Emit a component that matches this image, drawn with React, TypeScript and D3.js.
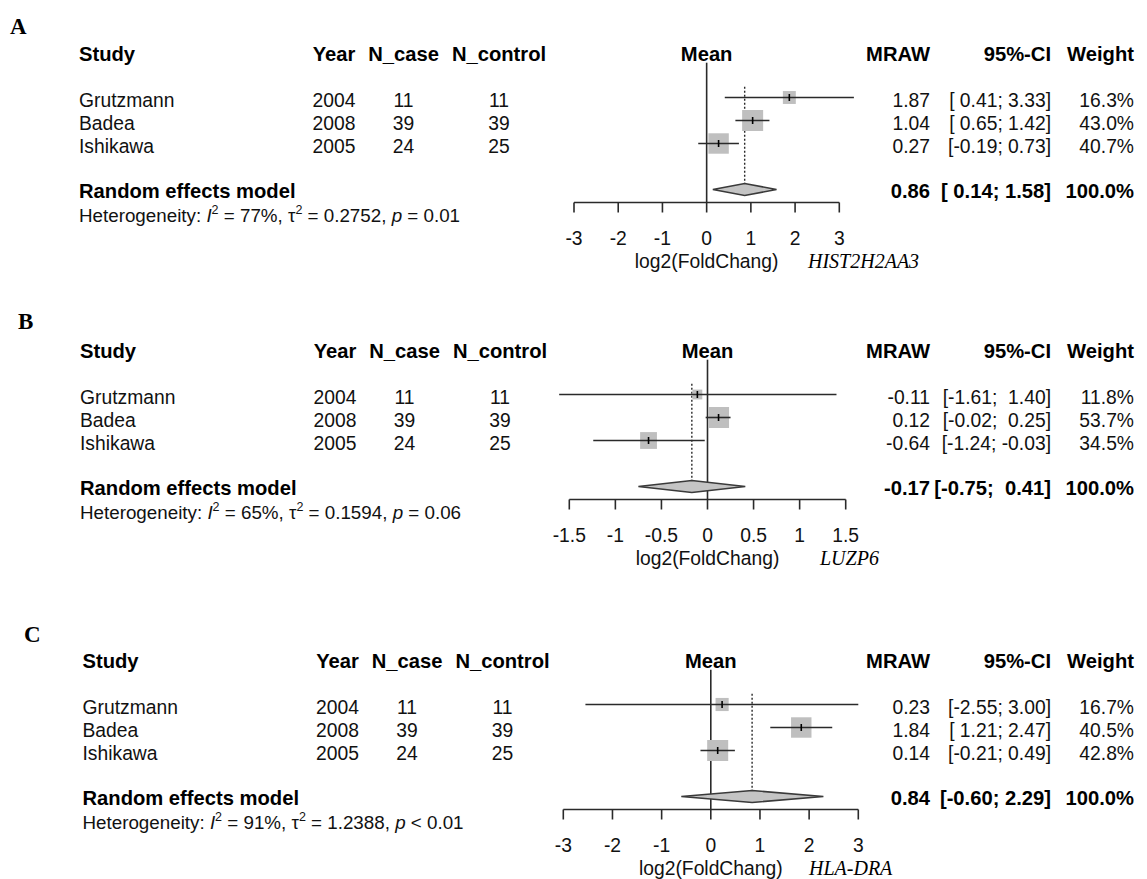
import React from "react";
import * as d3 from "d3";

// ---------- data ----------
const studies = ["Grutzmann", "Badea", "Ishikawa"];
const years = ["2004", "2008", "2005"];
const nCase = [11, 39, 24];
const nControl = [11, 39, 25];

const meanA = [1.87, 1.04, 0.27];
const lowerA = [0.41, 0.65, -0.19];
const upperA = [3.33, 1.42, 0.73];
const weightA = [16.3, 43.0, 40.7];
const summaryA = [0.86, 0.14, 1.58];
const ticksA = [-3, -2, -1, 0, 1, 2, 3];

const meanB = [-0.11, 0.12, -0.64];
const lowerB = [-1.61, -0.02, -1.24];
const upperB = [1.4, 0.25, -0.03];
const weightB = [11.8, 53.7, 34.5];
const summaryB = [-0.17, -0.75, 0.41];
const ticksB = [-1.5, -1, -0.5, 0, 0.5, 1, 1.5];

const meanC = [0.23, 1.84, 0.14];
const lowerC = [-2.55, 1.21, -0.21];
const upperC = [3.0, 2.47, 0.49];
const weightC = [16.7, 40.5, 42.8];
const summaryC = [0.84, -0.6, 2.29];
const ticksC = [-3, -2, -1, 0, 1, 2, 3];

const panelLetters = ["A", "B", "C"];
const genes = ["HIST2H2AA3", "LUZP6", "HLA-DRA"];
const hetI2 = ["77%", "65%", "91%"];
const hetTau2 = ["0.2752", "0.1594", "1.2388"];
const hetP = ["= 0.01", "= 0.06", "< 0.01"];

const panelData = [
  { mean: meanA, lower: lowerA, upper: upperA, weight: weightA, summary: summaryA, ticks: ticksA },
  { mean: meanB, lower: lowerB, upper: upperB, weight: weightB, summary: summaryB, ticks: ticksB },
  { mean: meanC, lower: lowerC, upper: upperC, weight: weightC, summary: summaryC, ticks: ticksC },
];

// ---------- layout ----------
const layouts = [
  { dy: 0, dx: 0, range: [574, 839.3], geneX: 808, letterX: 10, letterY: 34 },
  { dy: 297, dx: 1, range: [569.3, 845.7], geneX: 820, letterX: 18, letterY: 329 },
  { dy: 607, dx: 3.5, range: [563.3, 858.3], geneX: 809, letterX: 24, letterY: 642 },
];

const SANS = "'Liberation Sans', Arial, Helvetica, sans-serif";
const SERIF = "'Liberation Serif', 'Times New Roman', serif";
const FS = 19.3;
const FSB = 20.2;
const TXT = "#111";
const LINE = "#2a2a2a";
const NB = "\u00A0";

const fmt = (v: number) => v.toFixed(2);
const pad = (v: number, anyNeg: boolean) => (anyNeg && v >= 0 ? NB : "") + fmt(v);

function Panel({ idx }: { idx: number }) {
  const d = panelData[idx];
  const L = layouts[idx];
  const x = d3
    .scaleLinear()
    .domain([d.ticks[0], d.ticks[d.ticks.length - 1]])
    .range(L.range);
  const maxW = d3.max(d.weight) as number;
  const size = d3.scaleSqrt().domain([0, maxW]).range([0, 21]);

  const rowY = [97.5, 120.5, 143.5].map((v) => v + L.dy);
  const sumY = 189.5 + L.dy;
  const headerBase = 61 + L.dy;
  const axisY = 202.5 + L.dy;
  const zeroTop = 62.7 + L.dy;
  const dotTop = 86.7 + L.dy;

  const allLo = [...d.lower, d.summary[1]];
  const allHi = [...d.upper, d.summary[2]];
  const negLo = allLo.some((v) => v < 0);
  const negHi = allHi.some((v) => v < 0);
  const ci = (lo: number, hi: number) => `[${pad(lo, negLo)};${NB}${pad(hi, negHi)}]`;

  const tx = L.dx;
  const colStudy = 79 + tx;
  const colYear = 334 + tx;
  const colCase = 403.5 + tx;
  const colCtrl = 499 + tx;
  const colMraw = 930;
  const colCI = 1051;
  const colW = 1134;

  const x0 = x(0);

  return (
    <g>
      <text x={L.letterX} y={L.letterY} fontFamily={SERIF} fontWeight="bold" fontSize={23} fill="#000">
        {panelLetters[idx]}
      </text>

      {/* headers */}
      <g fontFamily={SANS} fontWeight="bold" fontSize={FSB} fill="#000">
        <text x={colStudy} y={headerBase}>Study</text>
        <text x={colYear} y={headerBase} textAnchor="middle">Year</text>
        <text x={colCase} y={headerBase} textAnchor="middle">N_case</text>
        <text x={colCtrl} y={headerBase} textAnchor="middle">N_control</text>
        <text x={x0} y={headerBase} textAnchor="middle">Mean</text>
        <text x={colMraw} y={headerBase} textAnchor="end">MRAW</text>
        <text x={colCI} y={headerBase} textAnchor="end">95%-CI</text>
        <text x={colW} y={headerBase} textAnchor="end">Weight</text>
      </g>

      {/* study rows */}
      <g fontFamily={SANS} fontSize={FS} fill={TXT}>
        {studies.map((s, i) => {
          const yb = rowY[i] + 9.5;
          return (
            <g key={s}>
              <text x={colStudy} y={yb}>{s}</text>
              <text x={colYear} y={yb} textAnchor="middle">{years[i]}</text>
              <text x={colCase} y={yb} textAnchor="middle">{nCase[i]}</text>
              <text x={colCtrl} y={yb} textAnchor="middle">{nControl[i]}</text>
              <text x={colMraw} y={yb} textAnchor="end">{fmt(d.mean[i])}</text>
              <text x={colCI} y={yb} textAnchor="end">{ci(d.lower[i], d.upper[i])}</text>
              <text x={colW} y={yb} textAnchor="end">{d.weight[i].toFixed(1) + "%"}</text>
            </g>
          );
        })}
      </g>

      {/* summary row */}
      <g fontFamily={SANS} fontSize={FSB} fontWeight="bold" fill="#000">
        <text x={colStudy} y={sumY + 8.5}>Random effects model</text>
        <text x={colMraw} y={sumY + 8.5} textAnchor="end">{fmt(d.summary[0])}</text>
        <text x={colCI} y={sumY + 8.5} textAnchor="end">{ci(d.summary[1], d.summary[2])}</text>
        <text x={colW} y={sumY + 8.5} textAnchor="end">100.0%</text>
      </g>

      {/* heterogeneity */}
      <text x={colStudy} y={222 + L.dy} fontFamily={SANS} fontSize={FS - 0.5} fill={TXT}>
        {"Heterogeneity:" + NB}
        <tspan fontStyle="italic">I</tspan>
        <tspan dy={-8} fontSize={12.5}>2</tspan>
        <tspan dy={8}>{NB + "=" + NB + hetI2[idx] + "," + NB + "τ"}</tspan>
        <tspan dy={-8} fontSize={12.5}>2</tspan>
        <tspan dy={8}>{NB + "=" + NB + hetTau2[idx] + "," + NB}</tspan>
        <tspan fontStyle="italic">p</tspan>
        <tspan>{NB + hetP[idx].replace(" ", NB)}</tspan>
      </text>

      {/* zero line */}
      <line x1={x0} x2={x0} y1={zeroTop} y2={axisY} stroke={LINE} strokeWidth={1.6} />
      {/* dotted summary line */}
      <line
        x1={x(d.summary[0])}
        x2={x(d.summary[0])}
        y1={dotTop}
        y2={sumY}
        stroke={LINE}
        strokeWidth={1.4}
        strokeDasharray="2,2"
      />

      {/* studies */}
      {studies.map((s, i) => {
        const sz = size(d.weight[i]);
        const cx = x(d.mean[i]);
        const cy = rowY[i];
        return (
          <g key={"m" + s}>
            <rect x={cx - sz / 2} y={cy - sz / 2} width={sz} height={sz} fill="#bfbfbf" />
            <line x1={x(d.lower[i])} x2={x(d.upper[i])} y1={cy} y2={cy} stroke={LINE} strokeWidth={1.6} />
            <line x1={cx} x2={cx} y1={cy - 3.5} y2={cy + 3.5} stroke="#000" strokeWidth={1.6} />
          </g>
        );
      })}

      {/* diamond */}
      <path
        d={`M${x(d.summary[1])},${sumY} L${x(d.summary[0])},${sumY - 6} L${x(d.summary[2])},${sumY} L${x(d.summary[0])},${sumY + 6} Z`}
        fill="#c4c4c4"
        stroke="#3a3a3a"
        strokeWidth={1.6}
      />

      {/* axis */}
      <line x1={x.range()[0]} x2={x.range()[1]} y1={axisY} y2={axisY} stroke={LINE} strokeWidth={1.6} />
      {d.ticks.map((t) => (
        <g key={"t" + t}>
          <line x1={x(t)} x2={x(t)} y1={axisY} y2={axisY + 10} stroke={LINE} strokeWidth={1.6} />
          <text x={x(t)} y={245 + L.dy} textAnchor="middle" fontFamily={SANS} fontSize={FS} fill={TXT}>
            {String(t)}
          </text>
        </g>
      ))}
      <text x={x0} y={267.5 + L.dy} textAnchor="middle" fontFamily={SANS} fontSize={FS} fill={TXT}>
        log2(FoldChang)
      </text>
      <text x={L.geneX} y={267.5 + L.dy} fontFamily={SERIF} fontStyle="italic" fontSize={20} fill="#000">
        {genes[idx]}
      </text>
    </g>
  );
}

export default function App() {
  return (
    <div>
      <style>{`body{margin:0;background:#fff;}`}</style>
      <svg width={1147} height={879} style={{ display: "block", background: "#fff" }}>
        {panelLetters.map((_, i) => (
          <Panel key={i} idx={i} />
        ))}
      </svg>
    </div>
  );
}
